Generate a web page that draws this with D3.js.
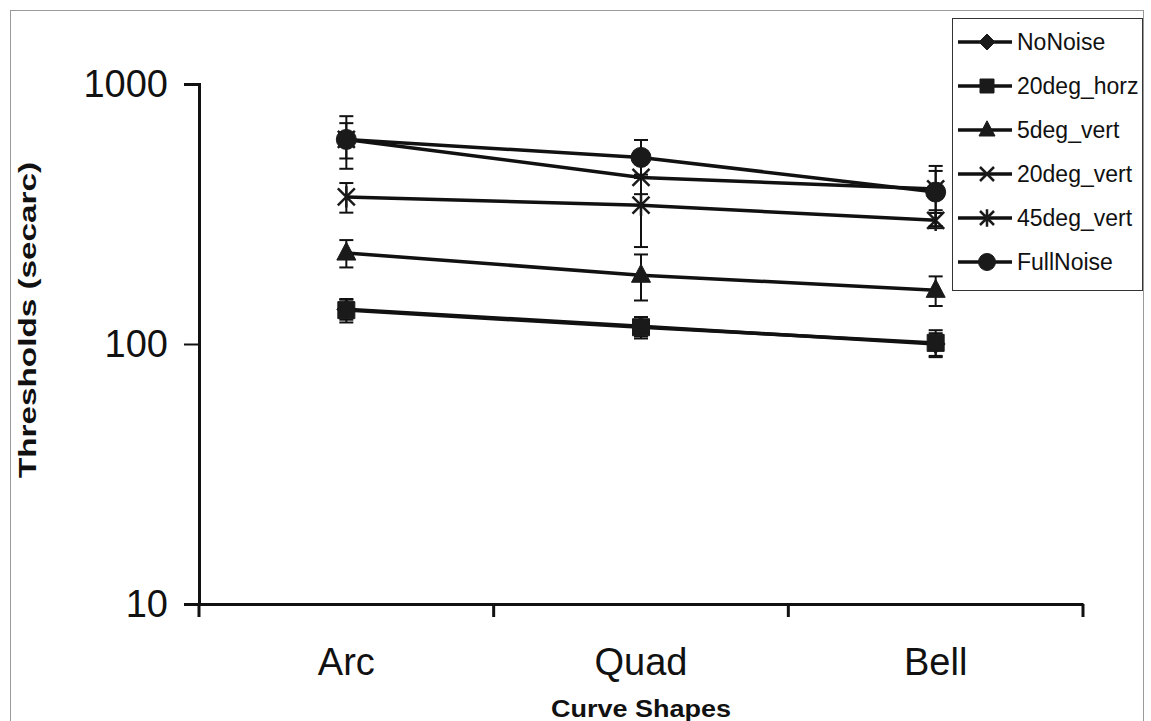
<!DOCTYPE html>
<html>
<head>
<meta charset="utf-8">
<script src="https://cdn.jsdelivr.net/npm/d3@7"></script>
<style>
  body { margin: 0; background: #fff; }
  svg { display: block; font-family: "Liberation Sans", Arial, Helvetica, sans-serif; }
</style>
</head>
<body>
<div id="chart-div"></div>
<script>
var categories = ["Arc", "Quad", "Bell"]
var seriesNames = ["NoNoise", "20deg_horz", "5deg_vert", "20deg_vert", "45deg_vert", "FullNoise"]
var yTicks = [10, 100, 1000]

// thresholds (secarc) per curve shape
var noNoise    = [136, 117, 100]
var deg20Horz  = [135, 116, 101]
var deg5Vert   = [224, 184, 161]
var deg20Vert  = [612, 437, 395]
var deg45Vert  = [368, 342, 299]
var fullNoise  = [612, 522, 384]

// +/- error values
var noNoiseErr   = [12, 10, 10]
var deg20HorzErr = [14, 11, 12]
var deg5VertErr  = [27, 37, 21]
var deg20VertErr = [95, 60, 68]
var deg45VertErr = [48, 106, 20]
var fullNoiseErr = [140, 87, 100]

var width = 1151
var height = 721

var svg = d3.select('#chart-div')
            .append('svg')
            .attr("width", width)
            .attr("height", height)
            .attr("viewBox", [0, 0, width, height]);

// outer chart frame
svg.append("rect")
    .attr("x", 10.5).attr("y", 10.5)
    .attr("width", 1133).attr("height", 720)
    .attr("fill", "none")
    .attr("stroke", "#9a9a9a")
    .attr("stroke-width", 1);

var x = d3.scaleBand()
    .domain(categories)
    .range([199, 1083])
    .padding(0);

var y = d3.scaleLog()
    .domain([10, 1000])
    .range([604, 84]);

// custom marker shapes (size = half width)
var markX = { draw: function(c, r) {
    c.moveTo(-r, -r); c.lineTo(r, r);
    c.moveTo(-r, r); c.lineTo(r, -r);
}};
var markStar = { draw: function(c, r) {
    c.moveTo(-r, -r); c.lineTo(r, r);
    c.moveTo(-r, r); c.lineTo(r, -r);
    c.moveTo(0, -r * 1.25); c.lineTo(0, r * 1.25);
}};
var markDiamond = { draw: function(c, r) {
    c.moveTo(0, -r); c.lineTo(r, 0); c.lineTo(0, r); c.lineTo(-r, 0); c.closePath();
}};
var markSquare = { draw: function(c, r) { c.rect(-r, -r, 2 * r, 2 * r); } };
var markTriangle = { draw: function(c, r) {
    c.moveTo(0, -r * 1.15); c.lineTo(r, r * 0.75); c.lineTo(-r, r * 0.75); c.closePath();
}};
var markCircle = { draw: function(c, r) { c.arc(0, 0, r, 0, 2 * Math.PI); } };

var series = [
    {name: seriesNames[0], values: noNoise,   err: noNoiseErr,   shape: markDiamond,  filled: true,  r: 9.5},
    {name: seriesNames[1], values: deg20Horz, err: deg20HorzErr, shape: markSquare,   filled: true,  r: 8.5},
    {name: seriesNames[2], values: deg5Vert,  err: deg5VertErr,  shape: markTriangle, filled: true,  r: 9.5},
    {name: seriesNames[3], values: deg20Vert, err: deg20VertErr, shape: markX,        filled: false, r: 8.5},
    {name: seriesNames[4], values: deg45Vert, err: deg45VertErr, shape: markStar,     filled: false, r: 8.5},
    {name: seriesNames[5], values: fullNoise, err: fullNoiseErr, shape: markCircle,   filled: true,  r: 10}
];

var cx = function(i) { return x(categories[i]) + x.bandwidth() / 2; };

// axes
var yAxis = d3.axisLeft(y)
    .tickValues(yTicks)
    .tickSize(15)
    .tickPadding(16)
    .tickFormat(d3.format("d"));

var gy = svg.append("g")
    .attr("class", "y axis")
    .attr("transform", "translate(199,0)")
    .call(yAxis);
gy.select(".domain").attr("stroke", "#111").attr("stroke-width", 3);
gy.selectAll(".tick line").attr("stroke", "#111").attr("stroke-width", 2);
gy.selectAll(".tick text")
    .attr("fill", "#111")
    .style("font-size", "38px")
    .style("font-family", "'Liberation Sans', Arial, sans-serif");

var xAxis = d3.axisBottom(x).tickSize(0).tickPadding(44);
var gx = svg.append("g")
    .attr("class", "x axis")
    .attr("transform", "translate(0,604)")
    .call(xAxis);
gx.select(".domain").attr("stroke", "#111").attr("stroke-width", 3);
gx.selectAll(".tick text")
    .attr("fill", "#111")
    .style("font-size", "38px")
    .style("font-family", "'Liberation Sans', Arial, sans-serif");

// tick marks on band edges
var edges = categories.map(function(d) { return x(d); }).concat([x(categories[categories.length - 1]) + x.bandwidth()]);
svg.append("g").selectAll("line")
    .data(edges)
    .enter().append("line")
    .attr("x1", function(d) { return d; })
    .attr("x2", function(d) { return d; })
    .attr("y1", 604)
    .attr("y2", 617)
    .attr("stroke", "#111")
    .attr("stroke-width", 3);

// axis titles
svg.append("text")
    .attr("x", 641)
    .attr("y", 717)
    .attr("text-anchor", "middle")
    .attr("textLength", 180)
    .attr("lengthAdjust", "spacingAndGlyphs")
    .style("font-size", "23px")
    .style("font-weight", "bold")
    .attr("fill", "#111")
    .text("Curve Shapes");

svg.append("text")
    .attr("transform", "translate(36,320) rotate(-90)")
    .attr("text-anchor", "middle")
    .attr("textLength", 316)
    .attr("lengthAdjust", "spacingAndGlyphs")
    .style("font-size", "24px")
    .style("font-weight", "bold")
    .attr("fill", "#111")
    .text("Thresholds (secarc)");

// series
var line = d3.line()
    .x(function(d, i) { return cx(i); })
    .y(function(d) { return y(d); });

var slice = svg.selectAll(".series")
    .data(series)
    .enter().append("g")
    .attr("class", "series");

slice.append("path")
    .attr("d", function(d) { return line(d.values); })
    .attr("fill", "none")
    .attr("stroke", "#111")
    .attr("stroke-width", 3.5);

// error bars
slice.each(function(s) {
    var g = d3.select(this);
    s.values.forEach(function(v, i) {
        var top = y(v + s.err[i]), bot = y(v - s.err[i]), xc = cx(i);
        g.append("line")
            .attr("x1", xc).attr("x2", xc)
            .attr("y1", top).attr("y2", bot)
            .attr("stroke", "#111").attr("stroke-width", 2);
        [top, bot].forEach(function(yy) {
            g.append("line")
                .attr("x1", xc - 7).attr("x2", xc + 7)
                .attr("y1", yy).attr("y2", yy)
                .attr("stroke", "#111").attr("stroke-width", 2);
        });
    });
});

// markers
slice.selectAll(".mark")
    .data(function(s) { return s.values.map(function(v, i) { return {v: v, i: i, s: s}; }); })
    .enter().append("path")
    .attr("class", "mark")
    .attr("transform", function(d) { return "translate(" + cx(d.i) + "," + y(d.v) + ")"; })
    .attr("d", function(d) { return d3.symbol().type(d.s.shape).size(d.s.r)(); })
    .attr("fill", function(d) { return d.s.filled ? "#1a1a1a" : "none"; })
    .attr("stroke", "#1a1a1a")
    .attr("stroke-width", function(d) { return d.s.filled ? 1 : 2.5; });

// legend
var legend = svg.append("g")
    .attr("class", "legend");

legend.append("rect")
    .attr("x", 952.5).attr("y", 18.5)
    .attr("width", 190).attr("height", 272)
    .attr("fill", "#fff")
    .attr("stroke", "#333")
    .attr("stroke-width", 1);

var item = legend.selectAll(".item")
    .data(series)
    .enter().append("g")
    .attr("class", "item")
    .attr("transform", function(d, i) { return "translate(0," + (42 + i * 44) + ")"; });

item.append("line")
    .attr("x1", 958).attr("x2", 1012)
    .attr("y1", 0).attr("y2", 0)
    .attr("stroke", "#111")
    .attr("stroke-width", 3.5);

item.append("path")
    .attr("transform", "translate(987,0)")
    .attr("d", function(d) { return d3.symbol().type(d.shape).size(d.r - 1.5)(); })
    .attr("fill", function(d) { return d.filled ? "#1a1a1a" : "none"; })
    .attr("stroke", "#1a1a1a")
    .attr("stroke-width", function(d) { return d.filled ? 1 : 2.5; });

item.append("text")
    .attr("x", 1017)
    .attr("y", 8)
    .style("font-size", "23px")
    .attr("fill", "#111")
    .text(function(d) { return d.name; });
</script>
</body>
</html>
